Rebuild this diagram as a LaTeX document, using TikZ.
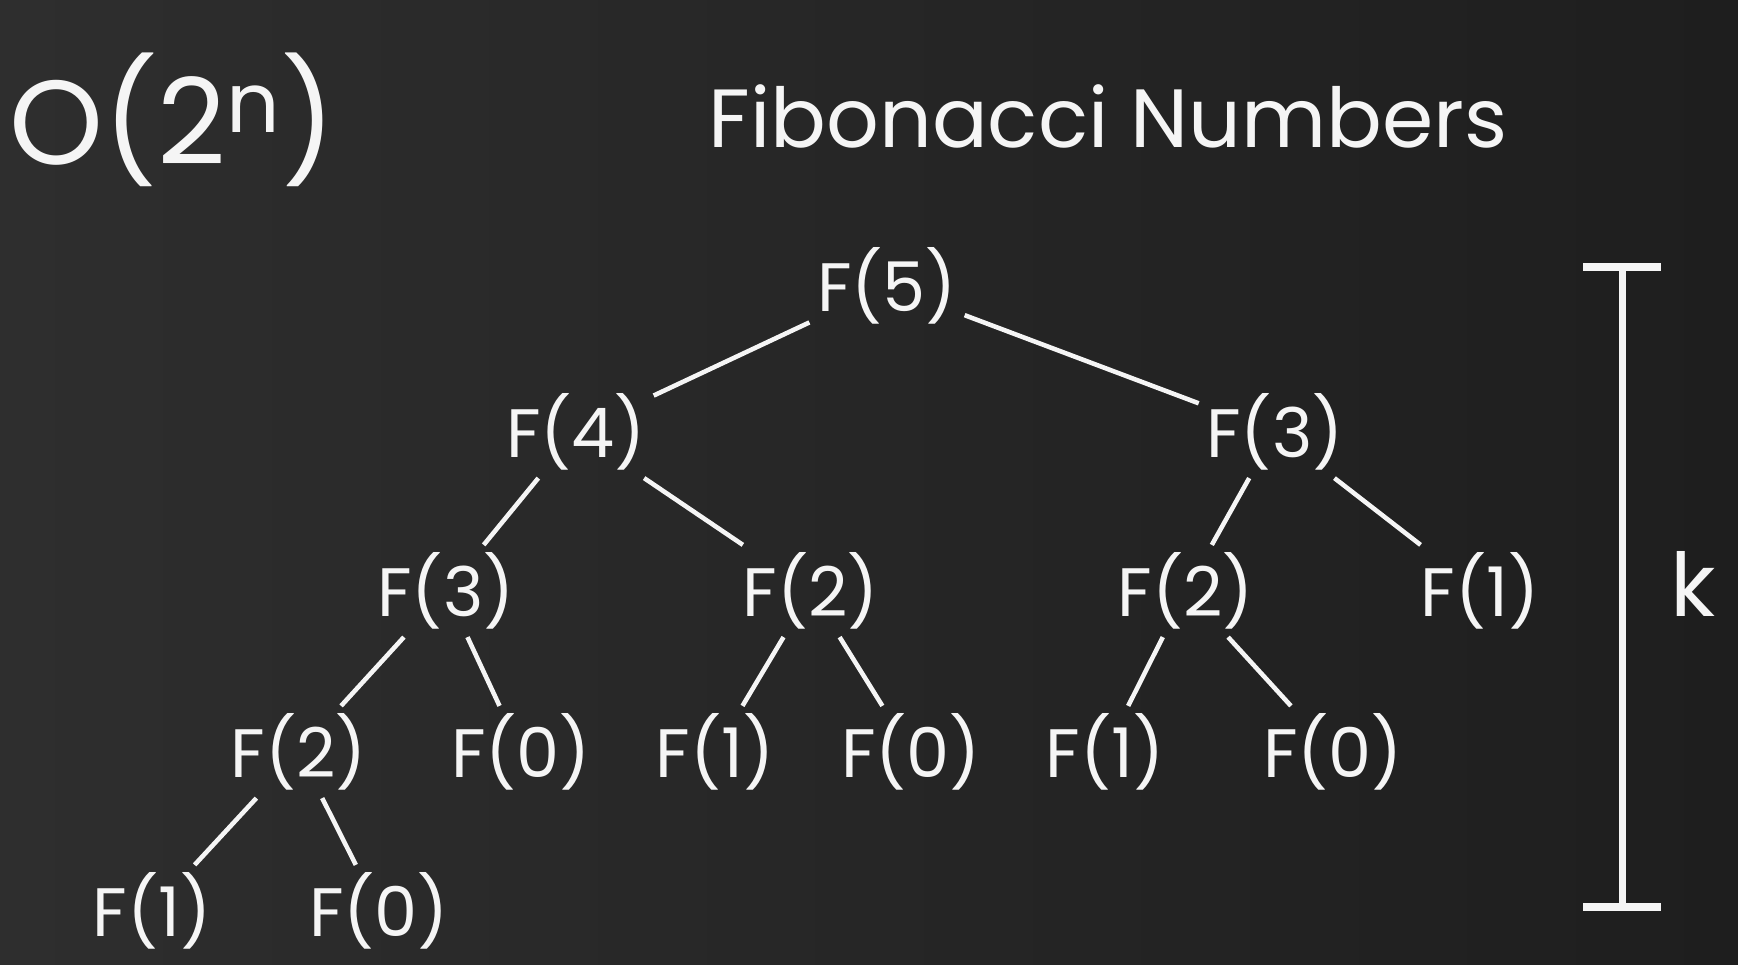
\documentclass[tikz,border=0pt]{standalone}
\usepackage{fontspec}
\setmainfont{Poppins}
\definecolor{boardL}{RGB}{46,46,46}
\definecolor{boardR}{RGB}{30,30,30}
\definecolor{chalk}{RGB}{245,245,245}
\gdef\Nfont{\fontsize{19.5}{20}\selectfont}

\begin{document}
\begin{tikzpicture}[every node/.style={text=chalk, font=\Nfont, inner sep=2pt}]
\shade[left color=boardL, right color=boardR] (0,0) rectangle (17.38,9.64);
\useasboundingbox (0,0) rectangle (17.38,9.64);

% headings
\node (big) at (1.73,8.44) {\fontsize{34}{34}\selectfont O(2\textsuperscript{n})};
\node (title) at (11.08,8.48) {\fontsize{23.5}{24}\selectfont Fibonacci Numbers};

% the call tree
\node (f5) at (8.87,6.78) {F(5)};
\node (f4) at (5.76,5.32) {F(4)};
\node (f3) at (12.75,5.32) {F(3)};
\node (f3a) at (4.46,3.73) {F(3)};
\node (f2a) at (8.11,3.73) {F(2)};
\node (f2b) at (11.86,3.73) {F(2)};
\node (f1a) at (14.80,3.73) {F(1)};
\node (f2c) at (2.99,2.12) {F(2)};
\node (f0a) at (5.21,2.12) {F(0)};
\node (f1b) at (7.15,2.12) {F(1)};
\node (f0b) at (9.11,2.12) {F(0)};
\node (f1c) at (11.05,2.12) {F(1)};
\node (f0c) at (13.33,2.12) {F(0)};
\node (f1d) at (1.52,0.53) {F(1)};
\node (f0d) at (3.79,0.53) {F(0)};

\draw[chalk, line width=1.3pt] (f5) -- (f4);
\draw[chalk, line width=1.3pt] (f5) -- (f3);
\draw[chalk, line width=1.3pt] (f4) -- (f3a);
\draw[chalk, line width=1.3pt] (f4) -- (f2a);
\draw[chalk, line width=1.3pt] (f3) -- (f2b);
\draw[chalk, line width=1.3pt] (f3) -- (f1a);
\draw[chalk, line width=1.3pt] (f3a) -- (f2c);
\draw[chalk, line width=1.3pt] (f3a) -- (f0a);
\draw[chalk, line width=1.3pt] (f2a) -- (f1b);
\draw[chalk, line width=1.3pt] (f2a) -- (f0b);
\draw[chalk, line width=1.3pt] (f2b) -- (f1c);
\draw[chalk, line width=1.3pt] (f2b) -- (f0c);
\draw[chalk, line width=1.3pt] (f2c) -- (f1d);
\draw[chalk, line width=1.3pt] (f2c) -- (f0d);

% depth bar
\coordinate (top) at (16.22,6.97);
\coordinate (bot) at (16.22,0.57);
\draw[chalk, line width=2pt] (top) -- (bot);
\draw[chalk, line width=2.3pt] ([xshift=-0.39cm]top) -- ([xshift=0.39cm]top);
\draw[chalk, line width=2.3pt] ([xshift=-0.39cm]bot) -- ([xshift=0.39cm]bot);
\node (k) at (16.93,3.80) {\fontsize{25}{25}\selectfont k};
\end{tikzpicture}
\end{document}
